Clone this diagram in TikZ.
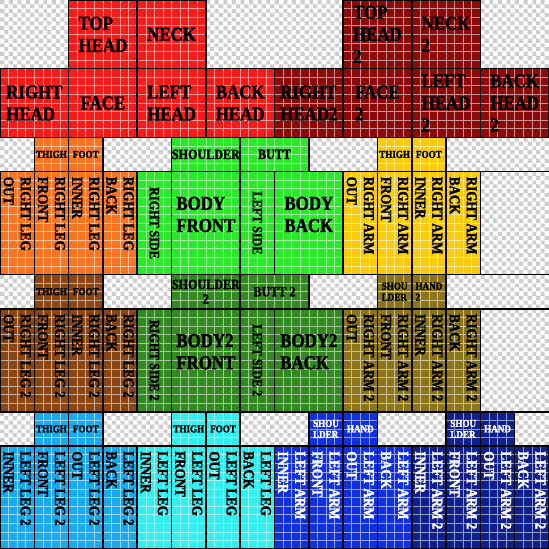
\documentclass[tikz,border=0pt]{standalone}
\usepackage{fontspec}
\newfontfamily\skinfont[FakeStretch=0.86,FakeBold=2]{Liberation Serif}
\usetikzlibrary{positioning}
\definecolor{headred}{HTML}{F41B1B}
\definecolor{headdark}{HTML}{8B0B0B}
\definecolor{legorange}{HTML}{F97420}
\definecolor{bodygreen}{HTML}{2BE82B}
\definecolor{armyellow}{HTML}{F9CB0F}
\definecolor{legbrown}{HTML}{8B4513}
\definecolor{bodydark}{HTML}{32891F}
\definecolor{armolive}{HTML}{8C7418}
\definecolor{legazure}{HTML}{19A9EE}
\definecolor{legcyan}{HTML}{33EEEE}
\definecolor{armblue}{HTML}{1030E0}
\definecolor{armnavy}{HTML}{0F1F8C}
\definecolor{checkgray}{HTML}{CDCDCD}
\tikzset{
  edgeline/.style={draw=black, line width=1.5pt},
  pixgrid/.style={draw=white, line width=0.6pt, opacity=0.55},
  biglabel/.style={font=\skinfont\bfseries\fontsize{19.5}{22}\selectfont, align=left, inner sep=0pt},
  midlabel/.style={font=\skinfont\bfseries\fontsize{14}{14.5}\selectfont, align=center, inner sep=0pt},
  toplabel/.style={font=\skinfont\bfseries\fontsize{10.5}{11}\selectfont, align=left, inner sep=0pt},
  sidelabel/.style={font=\skinfont\bfseries\fontsize{15}{17}\selectfont, align=left, rotate=-90, anchor=west, inner sep=0pt}
}
% skin parts: offset x, offset y, path options
\newcommand\headpart[3]{\path[#3] (#1+8,#2) rectangle ++(8,8) (#1+16,#2) rectangle ++(8,8)
  (#1,#2+8) rectangle ++(8,8) (#1+8,#2+8) rectangle ++(8,8) (#1+16,#2+8) rectangle ++(8,8) (#1+24,#2+8) rectangle ++(8,8);}
\newcommand\bodypart[3]{\path[#3] (#1+4,#2) rectangle ++(8,4) (#1+12,#2) rectangle ++(8,4)
  (#1,#2+4) rectangle ++(4,12) (#1+4,#2+4) rectangle ++(8,12) (#1+12,#2+4) rectangle ++(4,12) (#1+16,#2+4) rectangle ++(8,12);}
\newcommand\limbpart[3]{\path[#3] (#1+4,#2) rectangle ++(4,4) (#1+8,#2) rectangle ++(4,4)
  (#1,#2+4) rectangle ++(4,12) (#1+4,#2+4) rectangle ++(4,12) (#1+8,#2+4) rectangle ++(4,12) (#1+12,#2+4) rectangle ++(4,12);}
\begin{document}
\begin{tikzpicture}[x=0.3cm,y=-0.3cm]
  \useasboundingbox (0,0) rectangle (64,64);
  \fill[white] (0,0) rectangle (64,64);
  % transparent background
  \foreach \r in {0,...,63}
    \fill[checkgray] \foreach \c in {0,...,63} {(\c,\r) rectangle ++(0.5,0.5) (\c+0.5,\r+0.5) rectangle ++(0.5,0.5)};
  % fills
  \headpart{0}{0}{fill=headred}
  \headpart{32}{0}{fill=headdark}
  \limbpart{0}{16}{fill=legorange}
  \bodypart{16}{16}{fill=bodygreen}
  \limbpart{40}{16}{fill=armyellow}
  \limbpart{0}{32}{fill=legbrown}
  \bodypart{16}{32}{fill=bodydark}
  \limbpart{40}{32}{fill=armolive}
  \limbpart{0}{48}{fill=legazure}
  \limbpart{16}{48}{fill=legcyan}
  \limbpart{32}{48}{fill=armblue}
  \limbpart{48}{48}{fill=armnavy}
  % pixel grid
  \draw[pixgrid] \foreach \k in {1,...,63} {(\k,0) -- (\k,64) (0,\k) -- (64,\k)};
  % borders
  \headpart{0}{0}{edgeline}
  \headpart{32}{0}{edgeline}
  \foreach \oy in {16,32} {
    \limbpart{0}{\oy}{edgeline}
    \bodypart{16}{\oy}{edgeline}
    \limbpart{40}{\oy}{edgeline}
  }
  \foreach \ox in {0,16,32,48}
    \limbpart{\ox}{48}{edgeline}
  \foreach \r in {16,20,32,36,48,52}
    \draw[edgeline] (0,\r) -- (64,\r);
  % head
  \node[biglabel] (tophead) at (12,4) {TOP\\HEAD};
  \node[biglabel] (neck) at (20,4) {NECK};
  \node[biglabel] (righthead) at (4,12) {RIGHT\\HEAD};
  \node[biglabel] (facefront) at (12,12) {FACE};
  \node[biglabel] (lefthead) at (20,12) {LEFT\\HEAD};
  \node[biglabel] (backhead) at (28,12) {BACK\\HEAD};
  \node[biglabel] (tophead2) at (44,4) {TOP\\HEAD\\2};
  \node[biglabel] (neck2) at (52,4) {NECK\\2};
  \node[biglabel] (righthead2) at (36,12) {RIGHT\\HEAD2};
  \node[biglabel] (facefront2) at (44,12) {FACE\\2};
  \node[biglabel] (lefthead2) at (52,12) {LEFT\\HEAD\\2};
  \node[biglabel] (backhead2) at (60,12) {BACK\\HEAD\\2};
  % body
  \node[midlabel] (shoulder) at (24,18) {SHOULDER};
  \node[midlabel] (butt) at (32,18) {BUTT};
  \node[midlabel, rotate=-90] (rightside) at (18,26) {RIGHT SIDE};
  \node[biglabel] (bodyfront) at (24,25) {BODY\\FRONT};
  \node[midlabel, rotate=-90] (leftside) at (30,26) {LEFT SIDE};
  \node[biglabel] (bodyback) at (36,25) {BODY\\BACK};
  \node[midlabel] (shoulder2) at (24,34) {SHOULDER\\2};
  \node[midlabel] (butt2) at (32,34) {BUTT 2};
  \node[midlabel, rotate=-90] (rightside2) at (18,42) {RIGHT SIDE 2};
  \node[biglabel] (bodyfront2) at (24,41) {BODY2\\FRONT};
  \node[midlabel, rotate=-90] (leftside2) at (30,42) {LEFT SIDE 2};
  \node[biglabel] (bodyback2) at (36,41) {BODY2\\BACK};
  % limb tops
  \node[toplabel] (rlegtop) at (6,18) {THIGH};
  \node[toplabel] (rlegfoot) at (10,18) {FOOT};
  \node[toplabel] (rarmtop) at (46,18) {THIGH};
  \node[toplabel] (rarmfoot) at (50,18) {FOOT};
  \node[toplabel] (rlegtop2) at (6,34) {THIGH};
  \node[toplabel] (rlegfoot2) at (10,34) {FOOT};
  \node[toplabel] (rarmtop2) at (46,34) {SHOU\\LDER};
  \node[toplabel] (rarmhand2) at (50,34) {HAND\\2};
  \node[toplabel] (llegtop2) at (6,50) {THIGH};
  \node[toplabel] (llegfoot2) at (10,50) {FOOT};
  \node[toplabel] (llegtop) at (22,50) {THIGH};
  \node[toplabel] (llegfoot) at (26,50) {FOOT};
  \node[toplabel, text=white] (larmtop) at (38,50) {SHOU\\LDER};
  \node[toplabel, text=white] (larmhand) at (42,50) {HAND};
  \node[toplabel, text=white] (larmtop2) at (54,50) {SHOU\\LDER};
  \node[toplabel, text=white] (larmhand2) at (58,50) {HAND};
  % limb sides
  \foreach \t [count=\i from 0] in {OUT,FRONT,INNER,BACK} {
    \node[sidelabel] (rleg-\i) at (2+4*\i,20.6) {RIGHT LEG\\\t};
    \node[sidelabel] (rarm-\i) at (42+4*\i,20.6) {RIGHT ARM\\\t};
    \node[sidelabel] (rleg2-\i) at (2+4*\i,36.6) {RIGHT LEG 2\\\t};
    \node[sidelabel] (rarm2-\i) at (42+4*\i,36.6) {RIGHT ARM 2\\\t};
  }
  \foreach \t [count=\i from 0] in {INNER,FRONT,OUT,BACK} {
    \node[sidelabel] (lleg2-\i) at (2+4*\i,52.6) {LEFT LEG 2\\\t};
    \node[sidelabel] (lleg-\i) at (18+4*\i,52.6) {LEFT LEG\\\t};
    \node[sidelabel, text=white] (larm-\i) at (34+4*\i,52.6) {LEFT ARM\\\t};
    \node[sidelabel, text=white] (larm2-\i) at (50+4*\i,52.6) {LEFT ARM 2\\\t};
  }
\end{tikzpicture}
\end{document}
